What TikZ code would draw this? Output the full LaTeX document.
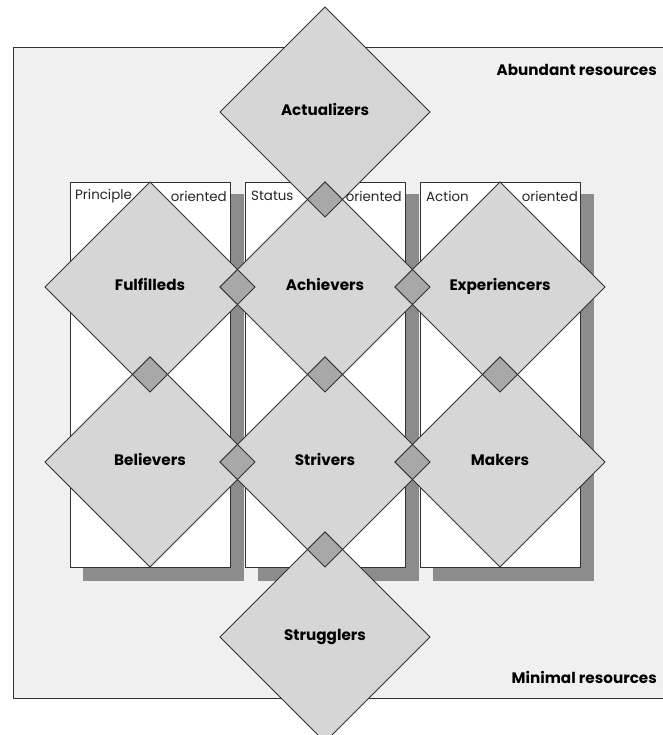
\documentclass[tikz,border=0pt]{standalone}
\usepackage{fontspec}
\setmainfont{Poppins}
\usetikzlibrary{shapes.geometric,calc}
\definecolor{bgc}{RGB}{240,240,240}
\definecolor{dfill}{RGB}{214,214,214}
\definecolor{ofill}{RGB}{168,168,168}
\definecolor{shad}{RGB}{140,140,140}
\definecolor{linec}{RGB}{50,50,50}
\tikzset{
  big/.style={diamond, aspect=1, minimum width=210pt, minimum height=210pt, inner sep=0pt, outer sep=0pt, fill=dfill, draw=linec, line width=0.75pt, text height=1.1ex, text depth=0pt, font=\bfseries\fontsize{15.2}{17}\selectfont},
  ovl/.style={diamond, aspect=1, minimum width=35pt, minimum height=35pt, inner sep=0pt, outer sep=0pt, fill=ofill, draw=linec, line width=0.75pt},
  colbox/.style={fill=white, draw=linec, line width=0.6pt},
  coltxt/.style={font=\fontsize{13.4}{15}\selectfont, inner sep=0pt, text=black!85},
  restxt/.style={font=\bfseries\fontsize{15.2}{17}\selectfont, inner sep=0pt}
}
\begin{document}
\begin{tikzpicture}[x=1pt,y=-1pt]
\useasboundingbox (0,0) rectangle (662,735);
% outer panel
\draw[fill=bgc, draw=linec, line width=0.8pt] (13,47) rectangle (680,698);
% column shadows and columns
\foreach \l in {70,245,420} {
  \fill[shad] (\l+13,194) rectangle (\l+174,581);
}
\foreach \l/\n in {70/c1,245/c2,420/c3} {
  \draw[colbox] (\l,182) rectangle (\l+160,567);
}
% big diamonds
\node[big] (act) at (325,112) {Actualizers};
\node[big] (ful) at (150,287) {Fulfilleds};
\node[big] (ach) at (325,287) {Achievers};
\node[big] (exp) at (500,287) {Experiencers};
\node[big] (bel) at (150,462) {Believers};
\node[big] (str) at (325,462) {Strivers};
\node[big] (mak) at (500,462) {Makers};
\node[big] (stg) at (325,637) {Strugglers};
% overlap diamonds
\node[ovl] (o1) at ($(act)!0.5!(ach)$) {};
\node[ovl] (o2) at ($(ful)!0.5!(ach)$) {};
\node[ovl] (o3) at ($(ach)!0.5!(exp)$) {};
\node[ovl] (o4) at ($(ful)!0.5!(bel)$) {};
\node[ovl] (o5) at ($(ach)!0.5!(str)$) {};
\node[ovl] (o6) at ($(exp)!0.5!(mak)$) {};
\node[ovl] (o7) at ($(bel)!0.5!(str)$) {};
\node[ovl] (o8) at ($(str)!0.5!(mak)$) {};
\node[ovl] (o9) at ($(str)!0.5!(stg)$) {};
% column labels
\node[coltxt, anchor=west] (p1) at (75,196) {Principle};
\node[coltxt, anchor=east] (p2) at (227,196) {oriented};
\node[coltxt, anchor=west] (s1) at (251,196) {Status};
\node[coltxt, anchor=east] (s2) at (402,196) {oriented};
\node[coltxt, anchor=west] (a1) at (426,196) {Action};
\node[coltxt, anchor=east] (a2) at (578,196) {oriented};
% resource labels
\node[restxt, anchor=east] (ab) at (657,70) {Abundant resources};
\node[restxt, anchor=east] (mi) at (657,677) {Minimal resources};
\end{tikzpicture}
\end{document}
